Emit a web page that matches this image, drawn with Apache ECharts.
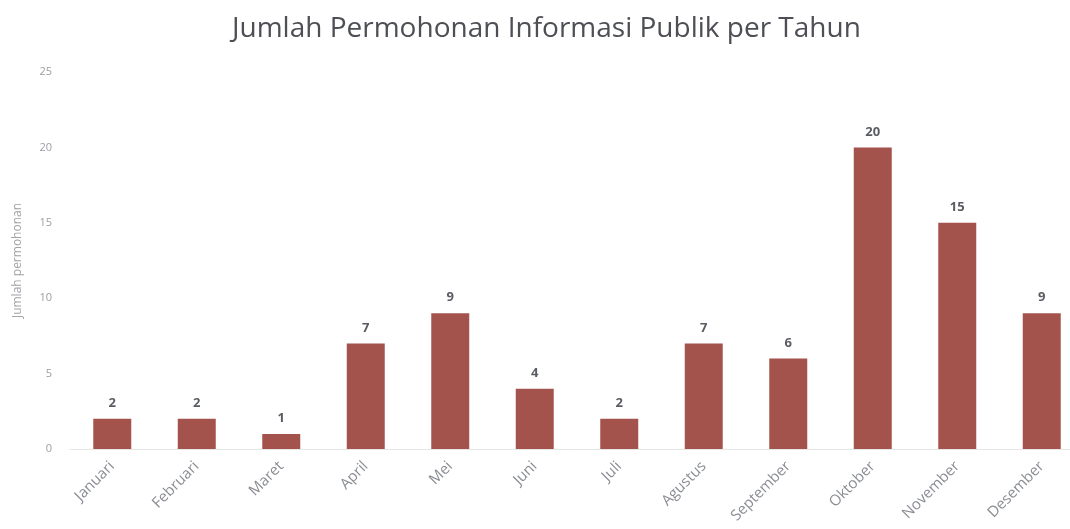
<!DOCTYPE html>
<html>
<head>
<meta charset="utf-8">
<script src="https://cdn.jsdelivr.net/npm/echarts@6/dist/echarts.min.js"></script>
<style>
  html, body { margin: 0; padding: 0; background: #fff; }
  #main { width: 1070px; height: 529px; }
</style>
</head>
<body>
<div id="main"></div>
<script>
const months = ['Januari', 'Februari', 'Maret', 'April', 'Mei', 'Juni', 'Juli', 'Agustus', 'September', 'Oktober', 'November', 'Desember'];
const permohonan = [2, 2, 1, 7, 9, 4, 2, 7, 6, 20, 15, 9];
const yTicks = [0, 5, 10, 15, 20, 25];

var chartDom = document.getElementById('main');
var myChart = echarts.init(chartDom);
var option = {
    animation: false,
    title: {
        text: 'Jumlah Permohonan Informasi Publik per Tahun',
        left: 227,
        top: 10,
        textStyle: {
            fontFamily: 'Open Sans',
            fontWeight: 'normal',
            fontSize: 28,
            color: '#4d4f55'
        }
    },
    grid: {
        left: 70,
        width: 1014,
        top: 72,
        bottom: 80,
        outerBoundsMode: 'none'
    },
    xAxis: {
        type: 'category',
        data: months,
        axisLine: { lineStyle: { color: '#e6e6e6' } },
        axisTick: { show: false },
        axisLabel: {
            rotate: 45,
            interval: 0,
            margin: 15,
            color: '#8a8d93',
            fontFamily: 'Open Sans',
            fontSize: 15
        }
    },
    yAxis: {
        type: 'value',
        min: yTicks[0],
        max: yTicks[yTicks.length - 1],
        interval: 5,
        name: 'Jumlah permohonan',
        nameLocation: 'middle',
        nameGap: 46,
        nameTextStyle: {
            color: '#a0a3a8',
            fontFamily: 'Open Sans',
            fontSize: 12
        },
        splitLine: { show: false },
        axisLine: { show: false },
        axisTick: { show: false },
        axisLabel: {
            margin: 18,
            color: '#9a9da2',
            fontFamily: 'Open Sans',
            fontSize: 11
        }
    },
    series: [
        {
            type: 'bar',
            data: permohonan,
            barWidth: 38,
            itemStyle: { color: '#a4534c' },
            label: {
                show: true,
                position: 'top',
                distance: 9,
                color: '#595c62',
                fontWeight: 'bold',
                fontFamily: 'Open Sans',
                fontSize: 13
            }
        }
    ]
};
myChart.setOption(option);
</script>
</body>
</html>
